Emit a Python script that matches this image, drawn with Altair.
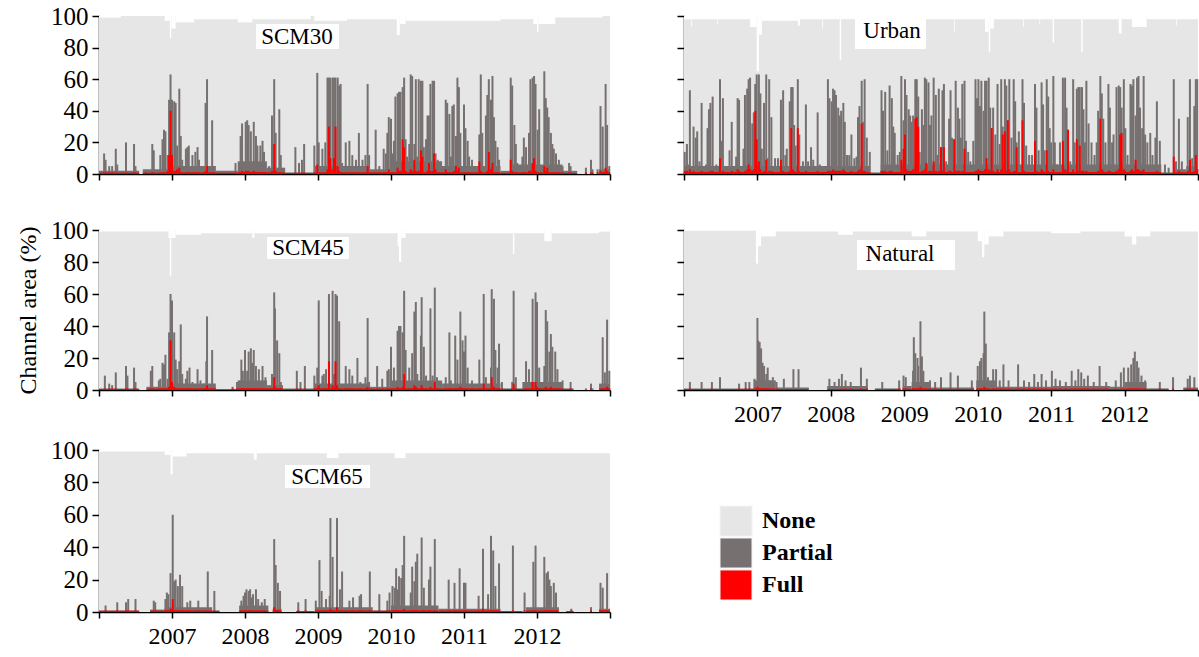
import altair as alt
import pandas as pd

FONT = "Liberation Serif"
NONE_COLOR = "#e6e6e6"
PARTIAL_COLOR = "#767170"
FULL_COLOR = "#ff0000"

x_domain = [2006, 2013]
year_ticks = [2006, 2007, 2008, 2009, 2010, 2011, 2012, 2013]
y_ticks = [0, 20, 40, 60, 80, 100]

legend_labels = ["None", "Partial", "Full"]
legend_colors = [NONE_COLOR, PARTIAL_COLOR, FULL_COLOR]

# ---------------- spikes: (year, top of wetted area %, full %) ----------------
scm30_spikes = [
    (2006.07,13,1),(2006.09,9,1),(2006.14,5,1),(2006.18,5,1),(2006.23,16,1),(2006.25,6,0),(2006.37,20,1),
    (2006.48,19,1),(2006.50,5,1),(2006.64,2,1),(2006.73,19,1),(2006.75,15,1),(2006.84,12,1),(2006.87,22,1),
    (2006.89,28,1),(2006.91,27,1),(2006.94,12,2),(2006.96,47,12),(2006.98,63,40),(2007.00,47,12),(2007.03,46,2),
    (2007.05,45,2),(2007.07,18,3),(2007.10,54,4),(2007.12,24,1),(2007.14,9,1),(2007.19,16,1),(2007.21,17,1),
    (2007.23,18,1),(2007.28,12,1),(2007.32,14,1),(2007.35,17,1),(2007.37,9,1),(2007.44,5,1),(2007.46,45,2),
    (2007.48,60,5),(2007.51,5,1),(2007.55,34,1),(2007.58,5,1),(2007.87,7,1),(2007.94,24,1),(2007.96,32,2),
    (2008.01,33,2),(2008.03,34,2),(2008.05,31,2),(2008.08,27,1),(2008.12,33,2),(2008.15,24,1),(2008.17,18,1),
    (2008.21,18,1),(2008.24,21,1),(2008.26,14,1),(2008.33,5,1),(2008.37,37,2),(2008.40,60,19),(2008.42,26,2),
    (2008.47,41,1),(2008.49,12,1),(2008.69,17,1),(2008.74,7,1),(2008.78,9,1),(2008.81,19,1),(2008.95,18,1),
    (2008.99,64,6),(2009.01,20,1),(2009.06,16,1),(2009.10,20,1),(2009.13,61,3),(2009.15,61,30),(2009.17,61,10),
    (2009.20,61,3),(2009.22,61,10),(2009.24,61,30),(2009.27,61,5),(2009.29,56,2),(2009.31,57,1),(2009.33,7,1),
    (2009.38,20,1),(2009.43,21,1),(2009.47,12,1),(2009.52,9,1),(2009.56,26,1),(2009.61,9,1),(2009.65,12,1),
    (2009.68,57,5),(2009.70,12,1),(2009.79,28,1),(2009.84,5,1),(2009.90,16,1),(2009.93,13,1),(2009.95,26,1),
    (2009.97,36,3),(2010.00,35,1),(2010.02,13,1),(2010.04,21,1),(2010.06,49,1),(2010.09,51,4),(2010.11,52,2),
    (2010.13,52,2),(2010.16,55,22),(2010.18,61,17),(2010.20,22,2),(2010.22,11,1),(2010.25,19,1),(2010.27,63,3),
    (2010.29,62,2),(2010.32,19,9),(2010.34,60,2),(2010.36,11,1),(2010.38,60,2),(2010.41,59,15),(2010.43,59,11),
    (2010.45,17,1),(2010.48,22,1),(2010.50,37,2),(2010.52,37,7),(2010.54,57,2),(2010.57,59,2),(2010.59,59,13),
    (2010.61,13,3),(2010.64,9,1),(2010.66,5,1),(2010.70,5,1),(2010.75,47,3),(2010.77,45,1),(2010.80,38,1),
    (2010.82,11,1),(2010.84,43,1),(2010.86,44,2),(2010.89,24,5),(2010.91,61,2),(2010.93,55,4),(2010.95,26,1),
    (2011.00,44,1),(2011.02,29,1),(2011.05,21,1),(2011.07,11,1),(2011.11,9,1),(2011.16,5,1),(2011.21,25,8),
    (2011.23,63,2),(2011.25,26,1),(2011.30,37,1),(2011.32,50,2),(2011.34,60,14),(2011.37,47,3),(2011.39,62,7),
    (2011.41,36,1),(2011.43,21,1),(2011.46,17,1),(2011.48,9,1),(2011.64,61,9),(2011.66,56,2),(2011.69,31,1),
    (2011.71,19,1),(2011.73,7,1),(2011.80,11,1),(2011.82,23,1),(2011.85,17,1),(2011.89,26,2),(2011.91,60,2),
    (2011.94,61,7),(2011.96,62,10),(2011.98,57,2),(2012.01,28,1),(2012.03,41,1),(2012.10,65,5),(2012.12,48,2),
    (2012.14,42,4),(2012.16,36,1),(2012.19,26,1),(2012.21,19,1),(2012.23,16,1),(2012.26,13,1),(2012.30,9,1),
    (2012.35,5,1),(2012.44,7,1),(2012.46,5,1),(2012.67,4,1),(2012.74,9,1),(2012.76,3,1),(2012.83,3,1),
    (2012.87,43,2),(2012.90,30,1),(2012.94,57,4),(2012.96,31,2),(2012.99,5,1),
]
scm30_base = [  # (start, end, partial level, full level)
    (2006.00,2006.55,2,0.8),(2006.60,2006.95,3,0.8),(2006.95,2007.60,5,1),(2007.60,2007.90,2,0.8),
    (2007.90,2008.30,8,1.2),(2008.30,2008.55,4,1),(2008.55,2008.95,1,0.6),(2008.95,2009.70,5,1),
    (2009.70,2010.00,3,1),(2010.00,2010.70,8,1),(2010.70,2011.50,5,1),(2011.50,2011.65,2,0.8),
    (2011.65,2012.35,6,1),(2012.35,2012.55,2,0.6),(2012.85,2013.00,3,1),
]
scm30_dips = [  # (start, end, top of "None" area)
    (2006.00,2006.30,99),(2006.90,2006.97,97),(2006.97,2006.99,86),(2006.99,2007.05,92),(2007.05,2007.30,96),
    (2007.30,2007.90,98),(2007.90,2008.10,96),(2008.10,2008.90,98),(2008.95,2009.40,97),(2009.40,2010.08,98),
    (2010.08,2010.12,88),(2010.12,2010.20,95),(2010.20,2011.50,97),(2011.50,2011.95,98),(2011.95,2012.00,95),
    (2012.00,2012.02,90),(2012.02,2012.25,95),(2012.25,2012.90,99),
]

urban_spikes = [
    (2006.01,14,2),(2006.04,19,2),(2006.06,6,1),(2006.08,53,3),(2006.13,30,2),(2006.16,23,1),(2006.18,27,1),
    (2006.21,8,1),(2006.24,45,2),(2006.30,6,1),(2006.32,29,1),(2006.34,41,1),(2006.36,45,2),(2006.39,49,2),
    (2006.44,6,1),(2006.49,60,10),(2006.51,21,1),(2006.53,48,2),(2006.58,5,1),(2006.62,15,1),(2006.65,33,2),
    (2006.71,11,1),(2006.73,48,3),(2006.75,47,2),(2006.81,16,1),(2006.83,50,2),(2006.86,54,3),(2006.88,60,6),
    (2006.90,61,3),(2006.93,32,2),(2006.95,39,3),(2006.97,57,40),(2006.99,63,22),(2007.02,63,8),(2007.04,51,3),
    (2007.06,16,1),(2007.09,45,2),(2007.12,63,9),(2007.14,10,1),(2007.16,60,2),(2007.19,36,2),(2007.24,10,1),
    (2007.28,10,1),(2007.32,47,9),(2007.35,53,2),(2007.38,12,1),(2007.40,16,1),(2007.44,46,2),(2007.46,55,29),
    (2007.48,55,3),(2007.50,31,2),(2007.52,18,1),(2007.55,60,29),(2007.57,25,2),(2007.62,8,1),(2007.66,44,2),
    (2007.69,8,1),(2007.73,17,1),(2007.76,9,1),(2007.82,39,2),(2007.85,6,1),(2007.96,60,2),(2007.98,48,2),
    (2008.01,46,2),(2008.03,54,3),(2008.05,53,2),(2008.07,50,2),(2008.10,42,2),(2008.12,37,2),(2008.14,40,2),
    (2008.17,45,3),(2008.19,33,2),(2008.22,12,1),(2008.25,12,1),(2008.28,25,2),(2008.32,10,1),(2008.35,11,1),
    (2008.37,36,2),(2008.39,43,3),(2008.42,59,32),(2008.44,33,2),(2008.46,60,2),(2008.49,23,1),(2008.53,14,1),
    (2008.69,53,2),(2008.71,40,2),(2008.74,52,2),(2008.77,15,1),(2008.80,56,2),(2008.83,48,2),(2008.85,30,1),
    (2008.87,26,1),(2008.91,12,1),(2008.94,14,1),(2008.96,62,9),(2008.99,34,16),(2009.01,60,25),(2009.03,50,3),
    (2009.06,41,2),(2009.08,37,2),(2009.10,33,2),(2009.12,37,3),(2009.15,60,35),(2009.17,60,36),(2009.19,49,30),
    (2009.21,14,1),(2009.24,41,2),(2009.26,31,2),(2009.28,61,3),(2009.30,60,7),(2009.33,58,2),(2009.35,31,2),
    (2009.37,37,2),(2009.40,61,8),(2009.43,50,2),(2009.45,12,1),(2009.47,54,2),(2009.50,17,17),(2009.52,53,2),
    (2009.54,57,17),(2009.57,8,1),(2009.61,35,2),(2009.63,53,2),(2009.65,23,1),(2009.68,22,22),(2009.70,59,2),
    (2009.73,42,2),(2009.75,35,2),(2009.77,23,1),(2009.79,57,2),(2009.82,59,16),(2009.84,21,1),(2009.87,14,1),
    (2009.90,8,1),(2009.94,21,1),(2009.97,60,2),(2009.99,48,2),(2010.01,60,3),(2010.03,43,2),(2010.05,59,2),
    (2010.08,40,2),(2010.10,59,3),(2010.12,59,10),(2010.15,61,3),(2010.17,42,2),(2010.19,29,29),(2010.21,42,2),
    (2010.24,25,1),(2010.27,57,3),(2010.30,19,1),(2010.32,60,3),(2010.34,30,25),(2010.37,60,27),(2010.39,56,2),
    (2010.41,34,34),(2010.43,60,3),(2010.46,23,1),(2010.49,60,2),(2010.51,46,2),(2010.53,20,17),(2010.56,27,1),
    (2010.61,60,34),(2010.63,45,2),(2010.66,18,1),(2010.70,12,1),(2010.74,12,1),(2010.78,57,21),(2010.80,42,2),
    (2010.83,15,1),(2010.87,58,3),(2010.89,44,2),(2010.91,15,1),(2010.94,60,15),(2010.96,49,2),(2010.98,29,1),
    (2011.00,20,1),(2011.03,62,3),(2011.05,20,1),(2011.08,6,1),(2011.12,20,1),(2011.16,61,21),(2011.19,61,3),
    (2011.21,42,2),(2011.23,28,28),(2011.26,8,1),(2011.30,60,3),(2011.32,20,1),(2011.35,54,22),(2011.37,55,2),
    (2011.39,55,18),(2011.42,55,2),(2011.44,41,2),(2011.46,20,1),(2011.48,59,2),(2011.51,32,1),(2011.55,20,1),
    (2011.59,12,1),(2011.62,20,1),(2011.64,40,2),(2011.67,62,35),(2011.69,51,3),(2011.71,35,2),(2011.74,20,1),
    (2011.78,57,2),(2011.80,42,2),(2011.83,20,1),(2011.85,25,1),(2011.89,55,2),(2011.92,56,3),(2011.94,55,25),
    (2011.96,42,26),(2011.99,60,3),(2012.01,29,2),(2012.04,12,1),(2012.08,57,2),(2012.10,56,3),(2012.12,60,2),
    (2012.15,37,9),(2012.17,61,3),(2012.19,62,3),(2012.21,42,2),(2012.24,29,2),(2012.26,62,3),(2012.28,25,1),
    (2012.31,20,1),(2012.35,26,1),(2012.38,12,1),(2012.42,23,1),(2012.44,46,2),(2012.48,21,1),(2012.55,6,0),
    (2012.60,4,0),(2012.67,60,11),(2012.70,8,1),(2012.74,35,2),(2012.78,8,1),(2012.86,36,2),(2012.89,60,9),
    (2012.92,10,1),(2012.95,43,2),(2012.97,60,12),(2012.99,60,3),
]
urban_base = [
    (2006.00,2008.52,5,1.2),(2008.52,2008.68,1,0.5),(2008.68,2012.50,6,1.2),(2012.50,2012.66,1,0.5),
    (2012.66,2012.84,3,1),(2012.84,2013.00,5,1.2),
]
urban_dips = [
    (2006.00,2006.90,98),(2006.90,2006.99,93),(2006.99,2007.02,65),(2007.02,2007.06,88),(2007.06,2007.55,97),
    (2007.55,2007.58,94),(2007.58,2008.12,98),(2008.12,2008.14,72),(2008.14,2010.10,98),(2010.10,2010.15,90),
    (2010.15,2010.17,77),(2010.17,2010.22,92),(2010.22,2011.02,98),(2011.02,2011.04,83),(2011.04,2011.41,98),
    (2011.41,2011.43,77),(2011.43,2011.92,98),(2011.92,2011.96,89),(2011.96,2012.10,98),(2012.10,2012.30,93),
    (2012.30,2013.00,98),(2006.10,2006.11,93),(2006.45,2006.46,95),(2007.88,2007.89,92),(2009.22,2009.23,94),
    (2009.68,2009.69,90),(2010.62,2010.63,93),(2010.84,2010.85,95),(2012.70,2012.71,94),
]

scm45_spikes = [
    (2006.08,9,1),(2006.14,4,1),(2006.18,3,1),(2006.23,11,1),(2006.37,15,1),(2006.39,9,1),(2006.48,14,1),
    (2006.50,5,1),(2006.71,12,1),(2006.73,15,1),(2006.82,6,1),(2006.84,7,1),(2006.87,17,1),(2006.89,16,1),
    (2006.91,22,1),(2006.94,7,1),(2006.96,36,2),(2006.98,60,31),(2007.00,56,5),(2007.03,36,2),(2007.05,19,1),
    (2007.07,13,1),(2007.10,18,1),(2007.12,41,1),(2007.14,10,1),(2007.19,7,1),(2007.21,12,1),(2007.24,14,1),
    (2007.28,5,1),(2007.35,13,1),(2007.39,6,1),(2007.44,4,1),(2007.47,18,1),(2007.48,46,3),(2007.51,2,1),
    (2007.55,25,1),(2007.58,3,1),(2007.83,2,1),(2007.89,5,1),(2007.95,19,1),(2007.97,12,1),(2008.00,25,1),
    (2008.03,12,1),(2008.05,24,1),(2008.08,26,1),(2008.10,17,1),(2008.12,25,1),(2008.15,15,1),(2008.19,13,1),
    (2008.24,15,1),(2008.28,8,1),(2008.37,10,1),(2008.40,61,8),(2008.41,51,2),(2008.44,31,1),(2008.47,23,1),
    (2008.49,5,1),(2008.71,12,1),(2008.76,5,1),(2008.82,15,1),(2008.95,9,1),(2008.99,14,1),(2009.01,56,3),
    (2009.06,9,1),(2009.08,10,1),(2009.11,13,1),(2009.15,60,18),(2009.20,62,3),(2009.22,10,1),(2009.24,60,18),
    (2009.26,59,3),(2009.29,43,1),(2009.38,15,1),(2009.43,13,1),(2009.47,9,1),(2009.54,20,1),(2009.58,5,1),
    (2009.65,8,1),(2009.68,45,2),(2009.70,5,1),(2009.81,15,1),(2009.88,7,1),(2009.95,12,1),(2009.97,13,1),
    (2010.00,27,1),(2010.04,14,1),(2010.09,37,2),(2010.11,40,1),(2010.13,40,1),(2010.16,36,2),(2010.18,62,10),
    (2010.20,25,1),(2010.25,14,1),(2010.29,23,1),(2010.32,49,3),(2010.34,55,2),(2010.36,10,1),(2010.41,34,1),
    (2010.42,58,3),(2010.45,27,1),(2010.48,9,1),(2010.54,51,2),(2010.57,9,1),(2010.60,64,5),(2010.63,8,1),
    (2010.75,8,1),(2010.80,36,1),(2010.82,6,1),(2010.88,34,1),(2010.91,19,1),(2010.95,49,2),(2010.98,31,1),
    (2011.00,24,1),(2011.02,34,1),(2011.05,14,1),(2011.11,6,1),(2011.21,19,1),(2011.27,60,4),(2011.30,8,1),
    (2011.37,14,1),(2011.38,63,8),(2011.41,57,2),(2011.43,25,1),(2011.46,14,1),(2011.48,29,1),(2011.52,5,1),
    (2011.66,5,1),(2011.68,62,4),(2011.71,8,1),(2011.85,18,1),(2011.89,13,1),(2011.94,57,5),(2011.98,61,5),
    (2012.00,55,2),(2012.03,14,1),(2012.10,15,1),(2012.12,50,2),(2012.14,43,1),(2012.17,24,1),(2012.19,35,2),
    (2012.21,27,1),(2012.25,24,1),(2012.28,13,1),(2012.35,6,1),(2012.46,5,1),(2012.67,1,0),(2012.74,4,1),
    (2012.76,1,0),(2012.90,33,1),(2012.93,11,1),(2012.96,44,2),(2012.99,12,1),
]
scm45_base = [
    (2006.00,2006.55,1,0.6),(2006.65,2006.95,2,0.8),(2006.95,2007.60,4,1),(2007.60,2007.88,0.5,0.4),
    (2007.90,2008.30,6,1),(2008.30,2008.52,3,1),(2008.52,2008.95,1,0.5),(2008.95,2009.70,4,1),
    (2009.70,2010.00,2,0.8),(2010.00,2010.70,6,1),(2010.70,2011.50,4,1),(2011.50,2011.80,1,0.6),
    (2011.80,2012.35,5,1),(2012.35,2012.50,1,0.5),(2012.85,2013.00,4,1),
]
scm45_dips = [
    (2006.00,2006.95,99),(2006.95,2006.97,95),(2006.97,2006.99,71),(2006.99,2007.05,95),(2007.05,2007.40,97),
    (2007.40,2008.10,98),(2008.10,2008.13,95),(2008.13,2010.09,98),(2010.09,2010.11,90),(2010.11,2010.14,80),
    (2010.14,2010.20,95),(2010.20,2011.67,98),(2011.67,2011.69,85),(2011.69,2012.10,98),(2012.10,2012.20,93),
    (2012.20,2012.85,98),(2012.85,2013.00,99),
]

natural_spikes = [
    (2006.08,5,1),(2006.24,5,0),(2006.38,5,1),(2006.49,8,0),(2006.75,4,1),(2006.84,5,1),(2006.89,5,1),
    (2006.96,7,1),(2007.00,45,2),(2007.01,31,1),(2007.03,30,1),(2007.05,26,1),(2007.07,17,1),(2007.09,15,1),
    (2007.12,10,1),(2007.14,14,1),(2007.17,6,1),(2007.21,8,1),(2007.26,5,1),(2007.36,7,0),(2007.49,13,0),
    (2007.56,13,0),(2007.98,7,0),(2008.05,5,0),(2008.11,7,0),(2008.15,10,1),(2008.20,6,1),(2008.27,5,1),
    (2008.41,14,1),(2008.49,7,1),(2008.70,5,0),(2008.93,6,1),(2008.99,9,1),(2009.02,8,1),(2009.12,12,1),
    (2009.13,33,1),(2009.15,23,1),(2009.18,20,1),(2009.19,15,1),(2009.22,43,2),(2009.24,21,1),(2009.26,12,1),
    (2009.30,5,1),(2009.35,6,1),(2009.42,5,1),(2009.50,8,1),(2009.63,11,1),(2009.73,9,1),(2009.92,6,1),
    (2010.00,15,1),(2010.03,18,1),(2010.05,20,1),(2010.08,23,1),(2010.09,49,2),(2010.11,29,1),(2010.14,8,1),
    (2010.21,13,1),(2010.25,13,1),(2010.30,6,1),(2010.35,16,1),(2010.42,6,1),(2010.55,16,1),(2010.63,6,1),
    (2010.70,5,1),(2010.77,10,1),(2010.82,5,1),(2010.87,10,1),(2010.93,6,1),(2011.01,12,1),(2011.06,7,1),
    (2011.12,6,1),(2011.20,5,1),(2011.28,12,1),(2011.33,6,1),(2011.37,13,1),(2011.41,11,1),(2011.45,7,1),
    (2011.50,9,1),(2011.58,5,1),(2011.66,15,1),(2011.75,5,1),(2011.88,6,1),(2011.95,11,1),(2011.99,14,1),
    (2012.05,14,1),(2012.09,16,1),(2012.12,20,1),(2012.14,24,1),(2012.17,18,1),(2012.19,14,1),(2012.23,9,1),
    (2012.28,6,1),(2012.48,5,1),(2012.66,8,1),(2012.86,7,1),(2012.89,9,1),(2012.95,8,1),
]
natural_base = [
    (2006.00,2006.95,1,0.6),(2006.95,2007.25,6,0.8),(2007.25,2007.70,1.5,0.6),(2007.95,2008.50,2.5,0.6),
    (2008.60,2008.95,1,0.5),(2008.98,2009.10,2.5,0.8),(2009.10,2009.35,5,0.8),(2009.35,2009.95,1.5,0.6),
    (2009.98,2010.25,6,0.8),(2010.25,2011.00,2,0.8),(2011.00,2011.80,2.5,0.8),(2011.80,2012.00,2,0.7),
    (2012.00,2012.30,5,0.8),(2012.30,2012.60,1,0.5),(2012.80,2013.00,1.5,0.6),
]
natural_dips = [
    (2006.00,2006.98,99.5),(2006.98,2007.01,79),(2007.01,2007.05,90),(2007.05,2007.25,96),(2007.25,2008.10,99),
    (2008.10,2008.30,97),(2008.30,2009.10,99),(2009.10,2009.30,96),(2009.30,2010.00,99),(2010.00,2010.06,93),
    (2010.06,2010.09,83),(2010.09,2010.15,91),(2010.15,2010.35,96),(2010.35,2011.00,99),(2011.00,2011.40,98),
    (2011.40,2012.00,99),(2012.00,2012.10,96),(2012.10,2012.16,91),(2012.16,2012.35,96),(2012.35,2013.00,99),
]

scm65_spikes = [
    (2006.09,4,1),(2006.25,6,1),(2006.37,6,1),(2006.40,8,1),(2006.50,8,1),(2006.75,7,1),(2006.77,6,1),
    (2006.91,8,1),(2006.93,12,1),(2006.95,11,1),(2006.98,24,2),(2007.01,60,8),(2007.03,19,1),(2007.05,20,1),
    (2007.08,16,1),(2007.11,23,1),(2007.14,16,1),(2007.21,6,1),(2007.25,7,1),(2007.36,7,1),(2007.49,25,1),
    (2007.58,13,1),(2007.95,7,1),(2007.98,10,1),(2008.00,12,1),(2008.02,14,1),(2008.05,13,1),(2008.07,14,1),
    (2008.09,9,1),(2008.11,11,1),(2008.15,14,1),(2008.18,8,1),(2008.23,6,1),(2008.27,8,1),(2008.40,45,3),
    (2008.42,29,1),(2008.45,18,1),(2008.48,13,1),(2008.73,6,1),(2008.83,8,1),(2008.97,7,1),(2009.02,32,1),
    (2009.05,13,1),(2009.11,8,1),(2009.16,10,1),(2009.17,58,2),(2009.20,34,1),(2009.26,58,3),(2009.30,14,1),
    (2009.33,25,1),(2009.43,7,1),(2009.48,9,1),(2009.57,10,1),(2009.59,11,1),(2009.71,25,1),(2009.84,11,1),
    (2009.95,7,1),(2009.98,12,1),(2010.02,16,1),(2010.05,15,1),(2010.07,27,1),(2010.09,14,1),(2010.11,22,1),
    (2010.14,21,1),(2010.16,29,1),(2010.18,47,2),(2010.27,12,1),(2010.29,28,1),(2010.32,19,1),(2010.34,31,1),
    (2010.36,36,1),(2010.42,46,1),(2010.45,15,1),(2010.52,20,1),(2010.54,28,1),(2010.60,45,1),(2010.79,20,1),
    (2010.87,18,1),(2010.94,27,1),(2011.00,18,1),(2011.02,18,1),(2011.20,10,1),(2011.26,39,2),(2011.33,11,1),
    (2011.37,47,1),(2011.40,38,1),(2011.43,16,1),(2011.48,30,1),(2011.67,41,1),(2011.83,12,1),(2011.95,31,1),
    (2011.98,41,1),(2012.10,34,1),(2012.13,24,1),(2012.15,25,1),(2012.17,20,1),(2012.19,16,1),(2012.23,18,1),
    (2012.26,12,1),(2012.47,2,1),(2012.74,3,1),(2012.87,18,1),(2012.90,15,1),(2012.96,24,1),
]
scm65_base = [
    (2006.00,2006.55,1,0.8),(2006.70,2006.90,1.5,0.8),(2006.90,2007.55,3,1),(2007.55,2007.65,1,0.6),
    (2007.92,2008.32,4,0.8),(2008.38,2008.50,2,1),(2008.70,2008.95,0.5,0.5),(2008.97,2009.75,3,1),
    (2009.75,2010.00,1,0.7),(2010.00,2010.65,4,1),(2010.65,2011.50,2,1),(2011.50,2011.80,0.5,0.5),
    (2011.85,2012.30,3,1),(2012.40,2012.50,0.5,0.5),(2012.85,2013.00,2,1),
]
scm65_dips = [
    (2006.00,2006.90,99),(2006.90,2006.98,97),(2006.98,2007.01,85),(2007.01,2007.20,96),(2007.20,2008.12,98),
    (2008.12,2008.16,94),(2008.16,2009.12,98),(2009.12,2009.28,95),(2009.28,2010.05,98),(2010.05,2010.20,95),
    (2010.20,2013.00,98),
]

X_LABEL_EXPR = "(datum.value > 2006 && datum.value < 2013) ? format(datum.value, 'd') : ''"


def panel(name, spikes, base, dips, width, height, y_labels, y_title_opacity,
          x_label_opacity, box, text_pos):
    sp = pd.DataFrame(spikes, columns=["x", "top", "full"])
    bs = pd.DataFrame(base, columns=["x0", "x1", "partial", "full"])
    dp = pd.DataFrame(dips, columns=["x0", "x1", "top"])
    bg = pd.DataFrame({"x0": [x_domain[0]], "x1": [x_domain[1]], "v": [100], "name": [name]})

    xs = alt.Scale(domain=x_domain, nice=False, zero=False)
    ys = alt.Scale(domain=[0, 100], nice=False)
    xa = alt.Axis(values=year_ticks, labelExpr=X_LABEL_EXPR, title=None, grid=False,
                  labelOpacity=x_label_opacity, tickSize=6, labelPadding=6, labelFontSize=24,
                  labelFont=FONT)
    if y_labels:
        ya = alt.Axis(values=y_ticks, title="Channel area (%)", titleOpacity=y_title_opacity,
                      grid=False, tickSize=7, labelPadding=4, labelFontSize=25,
                      labelFont=FONT, titleFont=FONT, titleFontSize=24, titleFontWeight="normal",
                      titlePadding=10)
    else:
        ya = alt.Axis(values=y_ticks, title=None, labels=False, grid=False, tickSize=7)

    background = alt.Chart(bg).mark_rect(color=NONE_COLOR).encode(
        x=alt.X("x0:Q", scale=xs, axis=xa), x2="x1:Q",
        y=alt.Y("v:Q", scale=ys, axis=ya), y2=alt.datum(0))
    gaps = alt.Chart(dp).mark_rect(color="white").encode(
        x=alt.X("x0:Q", scale=xs, axis=xa), x2="x1:Q",
        y=alt.Y("top:Q", scale=ys, axis=ya), y2=alt.datum(100))
    base_partial = alt.Chart(bs).mark_rect(color=PARTIAL_COLOR).encode(
        x=alt.X("x0:Q", scale=xs, axis=xa), x2="x1:Q",
        y=alt.Y("partial:Q", scale=ys, axis=ya), y2=alt.datum(0))
    spikes_partial = alt.Chart(sp).mark_rule(color=PARTIAL_COLOR, strokeWidth=2).encode(
        x=alt.X("x:Q", scale=xs, axis=xa),
        y=alt.Y("top:Q", scale=ys, axis=ya), y2=alt.datum(0))
    base_full = alt.Chart(bs).mark_rect(color=FULL_COLOR).encode(
        x=alt.X("x0:Q", scale=xs, axis=xa), x2="x1:Q",
        y=alt.Y("full:Q", scale=ys, axis=ya), y2=alt.datum(0))
    spikes_full = alt.Chart(sp).transform_filter("datum.full > 0").mark_rule(
        color=FULL_COLOR, strokeWidth=2).encode(
        x=alt.X("x:Q", scale=xs, axis=xa),
        y=alt.Y("full:Q", scale=ys, axis=ya), y2=alt.datum(0))
    label_box = alt.Chart(bg).mark_rect(color="white").encode(
        x=alt.value(box[0]), x2=alt.value(box[1]), y=alt.value(box[2]), y2=alt.value(box[3]))
    label_text = alt.Chart(bg).mark_text(font=FONT, fontSize=23, color="black",
                                         align="center", baseline="middle").encode(
        text="name:N", x=alt.value(text_pos[0]), y=alt.value(text_pos[1]))

    return alt.layer(background, gaps, base_partial, spikes_partial, base_full, spikes_full,
                     label_box, label_text).properties(width=width, height=height)


LW, RW = 511, 514

p_scm30 = panel("SCM30", scm30_spikes, scm30_base, scm30_dips, LW, 158, True, 0, 0,
                (157, 240, 8, 33), (198, 21))
p_urban = panel("Urban", urban_spikes, urban_base, urban_dips, RW, 158, False, 0, 0,
                (171, 242, 1, 33), (208, 15))
p_scm45 = panel("SCM45", scm45_spikes, scm45_base, scm45_dips, LW, 160, True, 1, 0,
                (168, 250, 7, 29), (209, 18))
p_natural = panel("Natural", natural_spikes, natural_base, natural_dips, RW, 160, False, 0, 1,
                  (173, 271, 10, 40), (216, 24))
p_scm65 = panel("SCM65", scm65_spikes, scm65_base, scm65_dips, LW, 162, True, 0, 1,
                (186, 271, 15, 38), (228, 27))

legend_df = pd.DataFrame({"label": legend_labels, "color": legend_colors})
leg_y = alt.Y("label:N", scale=alt.Scale(domain=legend_labels, range=[56, 150], paddingInner=0.06,
                                         paddingOuter=0), axis=None)
leg_rect = alt.Chart(legend_df).mark_rect(stroke="#f4f4f4", strokeWidth=1).encode(
    y=leg_y, x=alt.value(44), x2=alt.value(76),
    color=alt.Color("label:N", scale=alt.Scale(domain=legend_labels, range=legend_colors), legend=None))
leg_text = alt.Chart(legend_df).mark_text(font=FONT, fontSize=24, fontWeight="bold", color="black",
                                          align="left", baseline="middle").encode(
    y=leg_y, x=alt.value(86), text="label:N")
legend_panel = alt.layer(leg_rect, leg_text).properties(width=RW, height=162)

row1 = alt.hconcat(p_scm30, p_urban, spacing=65)
row2 = alt.hconcat(p_scm45, p_natural, spacing=65)
row3 = alt.hconcat(p_scm65, legend_panel, spacing=65)

top_rows = alt.vconcat(row1, row2, spacing=8)
chart = alt.vconcat(top_rows, row3, spacing=12).properties(
    padding={"left": 16, "top": 4, "right": 0, "bottom": 0}
).configure_view(strokeWidth=0).configure_axis(
    labelFont=FONT, titleFont=FONT, labelColor="black", titleColor="black",
    domainColor="black", tickColor="black", domainWidth=1.5, tickWidth=1.5
)

chart.save("out.html", embed_options={"renderer": "svg", "actions": False})
